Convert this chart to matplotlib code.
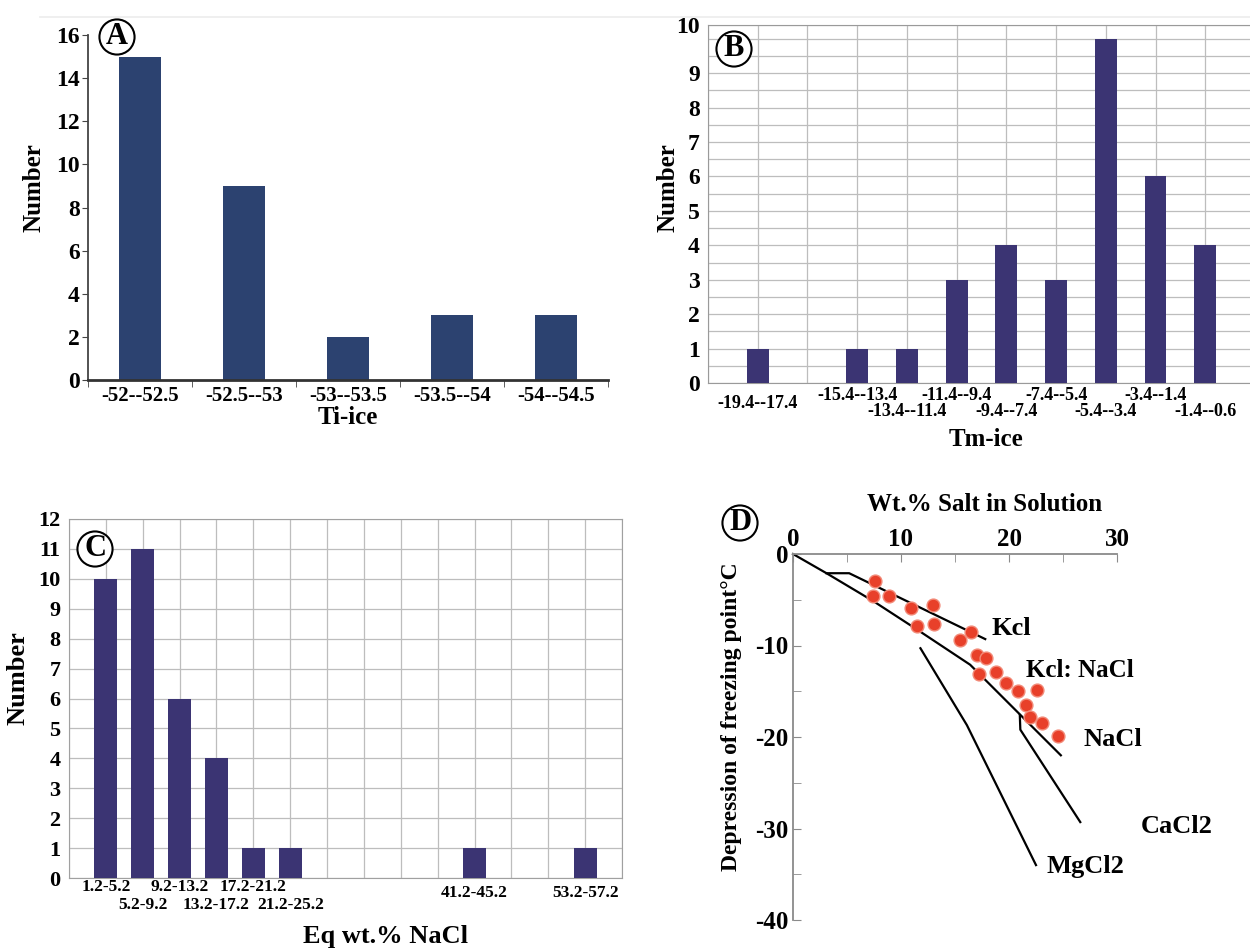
import matplotlib
matplotlib.use('Agg')
import matplotlib.pyplot as plt
from matplotlib.lines import Line2D
import numpy as np

plt.rcParams['font.family'] = ['Liberation Serif', 'DejaVu Serif']
plt.rcParams['font.weight'] = 'bold'
plt.rcParams['axes.labelweight'] = 'bold'
plt.rcParams['axes.unicode_minus'] = False

# ---------------- data ----------------
# Panel A : Ti-ice histogram
a_labels = ['-52--52.5', '-52.5--53', '-53--53.5', '-53.5--54', '-54--54.5']
a_counts = [15, 9, 2, 3, 3]

# Panel B : Tm-ice histogram
b_labels = ['-19.4--17.4', '', '-15.4--13.4', '-13.4--11.4', '-11.4--9.4',
            '-9.4--7.4', '-7.4--5.4', '-5.4--3.4', '-3.4--1.4', '-1.4--0.6']
b_counts = [1, 0, 1, 1, 3, 4, 3, 10, 6, 4]
b_yticklabels = ['0', '1', '2', '3', '4', '5', '6', '7', '8', '9', '10']

# Panel C : salinity histogram
c_labels = ['1.2-5.2', '5.2-9.2', '9.2-13.2', '13.2-17.2', '17.2-21.2', '21.2-25.2',
            '', '', '', '', '41.2-45.2', '', '', '53.2-57.2']
c_counts = [10, 11, 6, 4, 1, 1, 0, 0, 0, 0, 1, 0, 0, 1]

# Panel D : freezing point depression
d_salt = [7.6, 7.4, 8.9, 10.9, 13.0, 11.5, 13.1, 15.5, 16.5, 17.0,
          17.9, 17.2, 18.8, 19.7, 20.8, 22.6, 21.6, 21.9, 23.1, 24.5]
d_temp = [-3.0, -4.6, -4.6, -5.9, -5.6, -7.9, -7.7, -9.4, -8.5, -11.0,
          -11.4, -13.1, -12.9, -14.1, -15.0, -14.9, -16.5, -17.8, -18.5, -19.9]
nacl_x = [0, 3.1, 7.5, 11.8, 16.4, 24.8]
nacl_y = [0, -2.1, -5.2, -8.5, -12.1, -22.0]
kcl_x = [3.1, 5.2, 17.8]
kcl_y = [-2.1, -2.1, -9.3]
mgcl2_x = [11.8, 16.1, 22.5]
mgcl2_y = [-10.3, -18.7, -34.0]
cacl2_x = [21.0, 21.05, 26.6]
cacl2_y = [-17.6, -19.2, -29.3]

# ---------------- figure ----------------
W, H = 1250, 949
fig = plt.figure(figsize=(W / 100, H / 100), dpi=100)
fig.patch.set_facecolor('white')


def ax_px(x0, y0, x1, y1):
    return fig.add_axes([x0 / W, 1 - y1 / H, (x1 - x0) / W, (y1 - y0) / H])


def circ_label(xp, yp, s):
    fig.text(xp / W, 1 - yp / H, s, fontsize=22, fontweight='bold',
             ha='center', va='center',
             bbox=dict(boxstyle='circle,pad=0.1', fc='white', ec='black', lw=1.5))


# faint border line at top
fig.add_artist(Line2D([40 / W, 1.0], [1 - 17 / H, 1 - 17 / H], color='#ececec', lw=1.2))

navy = '#2c4270'
indigo = '#3b3473'
gridc = '#bdbdbd'

# ---------------- Panel A ----------------
axA = ax_px(88, 35, 608, 380)
xa = np.arange(len(a_counts))
axA.bar(xa, a_counts, width=0.4, color=navy, linewidth=0)
axA.set_xlim(-0.5, len(a_counts) - 0.5)
axA.set_ylim(0, 16)
for s in ['top', 'right']:
    axA.spines[s].set_visible(False)
axA.spines['left'].set_color('#444444')
axA.spines['left'].set_linewidth(1.3)
axA.spines['bottom'].set_color('#333333')
axA.spines['bottom'].set_linewidth(2)
axA.set_xticks(xa)
axA.set_xticklabels(a_labels, fontsize=15, fontweight='bold')
axA.set_xticks(np.arange(-0.5, len(a_counts), 1.0), minor=True)
axA.tick_params(axis='x', which='major', length=0, pad=4)
axA.tick_params(axis='x', which='minor', length=5, direction='out', color='#444444')
axA.set_yticks(np.arange(0, 17, 2))
axA.tick_params(axis='y', labelsize=17, length=4, pad=2, color='#444444')
axA.set_ylabel('Number', fontsize=18, va='center', ha='center')
axA.yaxis.set_label_coords(-0.104, 0.557)
axA.set_xlabel('Ti-ice', fontsize=18, va='center', ha='center')
axA.xaxis.set_label_coords(0.5, -0.11)
circ_label(117, 37, 'A')

# ---------------- Panel B ----------------
axB = ax_px(708, 25, 1250, 383)
xb = np.arange(len(b_counts))
axB.bar(xb, b_counts, width=0.44, color=indigo, linewidth=0, zorder=3)
axB.set_xlim(-1, 9.9)
axB.set_ylim(0, 10.4)
axB.set_axisbelow(True)
axB.set_xticks(np.arange(-1, len(b_counts)))
axB.set_xticklabels([])
axB.tick_params(axis='x', length=0)
axB.set_yticks(list(range(10)) + [10.4])
axB.set_yticklabels(b_yticklabels, fontsize=17, fontweight='bold')
axB.set_yticks(np.arange(0.5, 10.4, 0.5), minor=True)
axB.tick_params(axis='y', which='both', length=0, pad=6)
axB.grid(True, which='major', color=gridc, lw=0.9)
axB.grid(True, which='minor', axis='y', color=gridc, lw=0.9)
for s in ['left', 'bottom', 'top']:
    axB.spines[s].set_color('#9a9a9a')
axB.spines['right'].set_visible(False)
b_offsets = [21, 0, 12, 29, 12, 29, 12, 29, 12, 29]
for i, lab in enumerate(b_labels):
    if lab:
        axB.annotate(lab, xy=(i, 0), xycoords=('data', 'axes fraction'),
                     xytext=(0, -b_offsets[i] * 0.72), textcoords='offset points',
                     ha='center', va='center', fontsize=13, fontweight='bold')
axB.set_ylabel('Number', fontsize=18, va='center', ha='center')
axB.yaxis.set_label_coords(-0.074, 0.547)
axB.set_xlabel('Tm-ice', fontsize=18, va='center', ha='center')
axB.xaxis.set_label_coords(0.513, -0.159)
circ_label(734, 49, 'B')

# ---------------- Panel C ----------------
axC = ax_px(69, 519, 622, 878)
xc = np.arange(len(c_counts))
axC.bar(xc, c_counts, width=0.63, color=indigo, linewidth=0, zorder=3)
axC.set_xlim(-1, 14)
axC.set_ylim(0, 12)
axC.set_axisbelow(True)
axC.set_xticks(np.arange(-1, 15))
axC.set_xticklabels([])
axC.tick_params(axis='x', length=0)
axC.set_yticks(np.arange(0, 13, 1))
axC.tick_params(axis='y', labelsize=16, length=0, pad=6)
axC.grid(True, color=gridc, lw=0.9)
for s in ['left', 'bottom', 'top', 'right']:
    axC.spines[s].set_color('#a0a0a0')
c_offsets = [9, 27, 9, 27, 9, 27, 0, 0, 0, 0, 15, 0, 0, 15]
for i, lab in enumerate(c_labels):
    if lab:
        axC.annotate(lab, xy=(i, 0), xycoords=('data', 'axes fraction'),
                     xytext=(0, -c_offsets[i] * 0.72), textcoords='offset points',
                     ha='center', va='center', fontsize=12.5, fontweight='bold')
axC.set_ylabel('Number', fontsize=19, va='center', ha='center')
axC.yaxis.set_label_coords(-0.092, 0.557)
axC.set_xlabel('Eq wt.% NaCl', fontsize=19, va='center', ha='center')
axC.xaxis.set_label_coords(0.573, -0.164)
circ_label(95, 549, 'C')

# ---------------- Panel D ----------------
axD = ax_px(793, 554, 1117, 920)
axD.set_xlim(0, 30)
axD.set_ylim(-40, 0)
for s in ['bottom', 'right']:
    axD.spines[s].set_visible(False)
for s in ['top', 'left']:
    axD.spines[s].set_color('#8a8a8a')
    axD.spines[s].set_linewidth(1.3)
axD.xaxis.tick_top()
axD.xaxis.set_label_position('top')
axD.set_xticks([0, 10, 20, 30])
axD.set_xticks([5, 15, 25], minor=True)
axD.set_yticks([0, -10, -20, -30, -40])
axD.set_yticks([-5, -15, -25, -35], minor=True)
axD.tick_params(axis='both', which='both', direction='in', length=6, color='#8a8a8a',
                labelsize=18)
axD.tick_params(axis='x', pad=2)
axD.tick_params(axis='y', pad=3)
axD.plot(nacl_x, nacl_y, color='black', lw=1.6, clip_on=False)
axD.plot(kcl_x, kcl_y, color='black', lw=1.6, clip_on=False)
axD.plot(mgcl2_x, mgcl2_y, color='black', lw=1.6, clip_on=False)
axD.plot(cacl2_x, cacl2_y, color='black', lw=1.6, clip_on=False)
axD.scatter(d_salt, d_temp, s=85, color='#e8402a', edgecolors='#f28a78',
            linewidths=1.0, zorder=3, clip_on=False)
lab_kw = dict(fontsize=19, fontweight='bold', ha='left', va='center')
axD.text(18.4, -8.1, 'Kcl', **lab_kw)
axD.text(21.6, -12.7, 'Kcl: NaCl', fontsize=18, fontweight='bold', ha='left', va='center')
axD.text(26.9, -20.3, 'NaCl', **lab_kw)
axD.text(32.2, -29.8, 'CaCl2', **lab_kw)
axD.text(23.5, -34.1, 'MgCl2', **lab_kw)
axD.set_xlabel('Wt.% Salt in Solution', fontsize=18, va='center', ha='center')
axD.xaxis.set_label_coords(0.59, 1.134)
axD.set_ylabel('Depression of freezing point°C', fontsize=17, va='center', ha='center')
axD.yaxis.set_label_coords(-0.19, 0.555)
circ_label(740, 523, 'D')

fig.savefig('out.png', dpi=100, facecolor='white')
